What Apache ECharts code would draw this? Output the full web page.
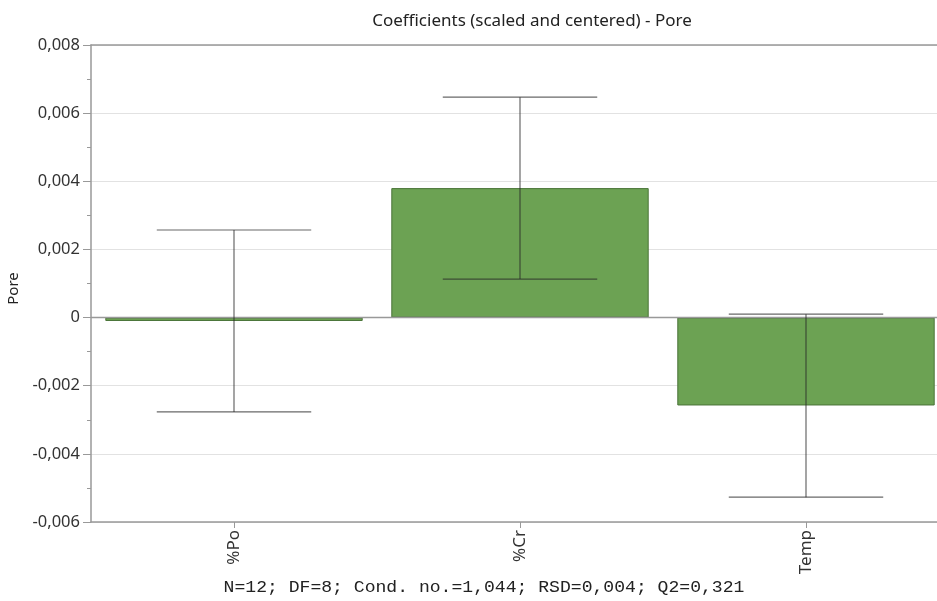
<!DOCTYPE html>
<html><head><meta charset="utf-8">
<script src="https://cdn.jsdelivr.net/npm/echarts@6/dist/echarts.min.js"></script>
<style>html,body{margin:0;padding:0;background:#fff}#c{width:937px;height:601px}</style>
</head><body><div id="c"></div>
<script>
const categories = ['%Po', '%Cr', 'Temp'];
const coefficients = [-0.0001, 0.0038, -0.00258];
const errLow = [-0.00277, 0.00113, -0.00527];
const errHigh = [0.00257, 0.00647, 0.0001];
const yTicks = { min: -0.006, max: 0.008, interval: 0.002 };
const titleText = 'Coefficients (scaled and centered) - Pore';
const footerText = 'N=12; DF=8; Cond. no.=1,044; RSD=0,004; Q2=0,321';

const chart = echarts.init(document.getElementById('c'), null, {renderer: 'canvas'});
const fmt = v => v === 0 ? '0' : v.toFixed(3).replace('.', ',');
const errData = categories.map((c, i) => [i, errLow[i], errHigh[i]]);
const sans = 'Noto Sans';

chart.setOption({
  animation: false,
  backgroundColor: '#ffffff',
  title: {
    text: titleText, left: 527, top: 8, textAlign: 'center',
    textStyle: {fontFamily: sans, fontSize: 17, fontWeight: 'normal', color: '#222'}
  },
  grid: {left: 91, top: 45, width: 858, bottom: 79, containLabel: false, outerBoundsMode: 'none'},
  xAxis: [{
    type: 'category', data: categories, position: 'bottom',
    axisLine: {onZero: false, lineStyle: {color: '#999', width: 1.5}},
    axisTick: {show: true, alignWithLabel: true, length: 6, lineStyle: {color: '#999'}},
    axisLabel: {rotate: 90, margin: 8, fontFamily: sans, fontSize: 17, color: '#333'},
    splitLine: {show: false}
  }, {
    type: 'category', data: categories, position: 'top',
    axisLine: {onZero: false, lineStyle: {color: '#999', width: 1.5}},
    axisTick: {show: false}, axisLabel: {show: false}
  }],
  yAxis: {
    type: 'value', min: yTicks.min, max: yTicks.max, interval: yTicks.interval,
    name: 'Pore', nameLocation: 'middle', nameGap: 59, nameRotate: 90,
    nameTextStyle: {fontFamily: sans, fontSize: 15, color: '#222', padding: [0, 10, 0, 0]},
    axisLine: {show: true, lineStyle: {color: '#999', width: 1.5}},
    axisTick: {show: true, length: 8, lineStyle: {color: '#999'}},
    minorTick: {show: true, splitNumber: 2, length: 4, lineStyle: {color: '#999'}},
    axisLabel: {formatter: fmt, fontFamily: sans, fontSize: 16.5, color: '#333', margin: 11},
    splitLine: {show: true, lineStyle: {color: '#e2e2e2', width: 1.2}}
  },
  series: [{
    type: 'bar', data: coefficients, barWidth: '90%',
    itemStyle: {color: '#6ca253', borderColor: '#4a7438', borderWidth: 1},
    markLine: {
      silent: true, symbol: 'none', label: {show: false},
      lineStyle: {color: '#999', width: 1.3, type: 'solid'},
      data: [{yAxis: 0}]
    },
    z: 2
  }, {
    type: 'custom', data: errData, z: 5,
    encode: {x: 0, y: [1, 2]},
    renderItem: function (params, api) {
      const x = api.value(0);
      const lo = api.coord([x, api.value(1)]);
      const hi = api.coord([x, api.value(2)]);
      const half = api.size([1, 0])[0] * 0.27;
      const st = {stroke: 'rgba(40,40,40,0.7)', lineWidth: 1.2, fill: null};
      return {type: 'group', children: [
        {type: 'line', shape: {x1: lo[0], y1: lo[1], x2: hi[0], y2: hi[1]}, style: st},
        {type: 'line', shape: {x1: lo[0] - half, y1: lo[1], x2: lo[0] + half, y2: lo[1]}, style: st},
        {type: 'line', shape: {x1: hi[0] - half, y1: hi[1], x2: hi[0] + half, y2: hi[1]}, style: st}
      ]};
    }
  }],
  graphic: [{
    type: 'text', x: 484, y: 580, scaleX: 1.13,
    style: {text: footerText, fontFamily: 'Liberation Mono', fontSize: 16, fill: '#222', align: 'center', textAlign: 'center', verticalAlign: 'top'}
  }]
});
</script>
</body></html>
